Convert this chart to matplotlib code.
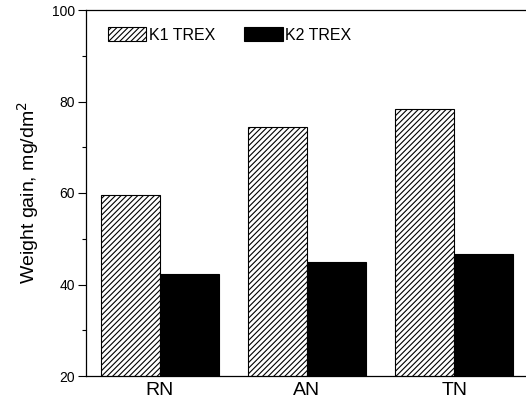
import matplotlib
matplotlib.use("Agg")
import matplotlib.pyplot as plt
import numpy as np
from matplotlib.ticker import MultipleLocator

plt.rcParams['font.family'] = ['Liberation Sans', 'DejaVu Sans']
plt.rcParams['hatch.linewidth'] = 0.8

categories = ["RN", "AN", "TN"]
k1_trex = [59.6, 74.4, 78.4]
k2_trex = [42.2, 44.9, 46.7]
series_labels = ["K1 TREX", "K2 TREX"]

fig = plt.figure(figsize=(5.26, 4.09), dpi=100)
W, H = 526, 409
ax = fig.add_axes([86 / W, 1 - 376 / H, (528 - 86) / W, (376 - 10) / H])

x = np.arange(len(categories))
w = 0.4
ax.bar(x - w / 2, k1_trex, w, bottom=0, facecolor='white', edgecolor='black',
       hatch='//////', linewidth=0.8, label=series_labels[0])
ax.bar(x + w / 2, k2_trex, w, bottom=0, facecolor='black', edgecolor='black',
       linewidth=0.8, label=series_labels[1])

ax.set_xlim(-0.5, 2.5)
ax.set_ylim(20, 100)
ax.set_xticks(x)
ax.set_xticklabels(categories, fontsize=14)
ax.tick_params(axis='x', length=0, pad=4)
ax.yaxis.set_major_locator(MultipleLocator(20))
ax.yaxis.set_minor_locator(MultipleLocator(10))
ax.tick_params(axis='y', which='major', direction='out', length=6, width=0.8, labelsize=10, pad=2)
ax.tick_params(axis='y', which='minor', direction='out', length=3, width=0.8)
ax.set_ylabel("Weight gain, mg/dm$^2$", fontsize=14, labelpad=8)
for s in ax.spines.values():
    s.set_linewidth(0.9)

ax.legend(loc='upper left', ncol=2, frameon=False, fontsize=11.5,
          handlelength=2.4, handleheight=0.9, columnspacing=1.85,
          handletextpad=0.15, borderaxespad=0.0, bbox_to_anchor=(0.035, 0.97))

fig.savefig("out.png", dpi=100)
